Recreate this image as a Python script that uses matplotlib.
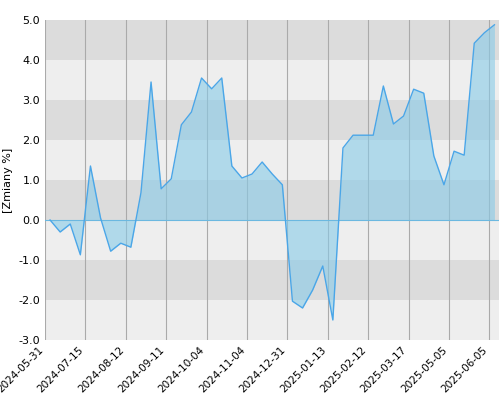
import numpy as np
import matplotlib
matplotlib.use("Agg")
import matplotlib.pyplot as plt

values = [0.0, -0.3, -0.1, -0.87, 1.35, 0.05, -0.78, -0.58, -0.68, 0.68,
          3.45, 0.78, 1.03, 2.38, 2.7, 3.55, 3.28, 3.55, 1.35, 1.05,
          1.15, 1.45, 1.15, 0.88, -2.03, -2.2, -1.75, -1.15, -2.5, 1.8,
          2.12, 2.12, 2.12, 3.35, 2.4, 2.6, 3.27, 3.17, 1.6, 0.88,
          1.72, 1.62, 4.42, 4.68, 4.88]
tick_labels = ['2024-05-31', '2024-07-15', '2024-08-12', '2024-09-11', '2024-10-04',
               '2024-11-04', '2024-12-31', '2025-01-13', '2025-02-12', '2025-03-17',
               '2025-05-05', '2025-06-05']

x = np.arange(len(values))
y = np.array(values)

fig = plt.figure(figsize=(5, 4), dpi=100)
ax = fig.add_axes([0.09, 0.15, 0.907, 0.80])

for k, lo in enumerate(range(-3, 5)):
    ax.axhspan(lo, lo + 1, color='#dcdcdc' if k % 2 == 1 else '#eeeeee', zorder=0, lw=0)

ticks = -0.5 + 4 * np.arange(len(tick_labels))
for t in ticks:
    ax.axvline(t, color='#aaaaaa', lw=0.8, zorder=1)

ax.fill_between(x, y, 0, color='#88cbe8', alpha=0.6, zorder=2, lw=0)
ax.plot(x, y, color='#4aa6e8', lw=1, zorder=3)
ax.axhline(0, color='#6bb8e0', lw=0.8, zorder=2)

ax.set_xlim(-0.5, 44.4)
ax.set_ylim(-3, 5)
ax.set_yticks(np.arange(-3, 5.1, 1))
ax.set_yticklabels([f'{v:.1f}' for v in np.arange(-3, 5.1, 1)], fontsize=8)
ax.set_xticks(ticks)
ax.set_xticklabels(tick_labels, rotation=45, ha='right', fontsize=7.5)
ax.set_ylabel('[Zmiany %]', fontsize=8)
for s in ax.spines.values():
    s.set_visible(False)
ax.tick_params(length=0)

fig.savefig('out.png')
